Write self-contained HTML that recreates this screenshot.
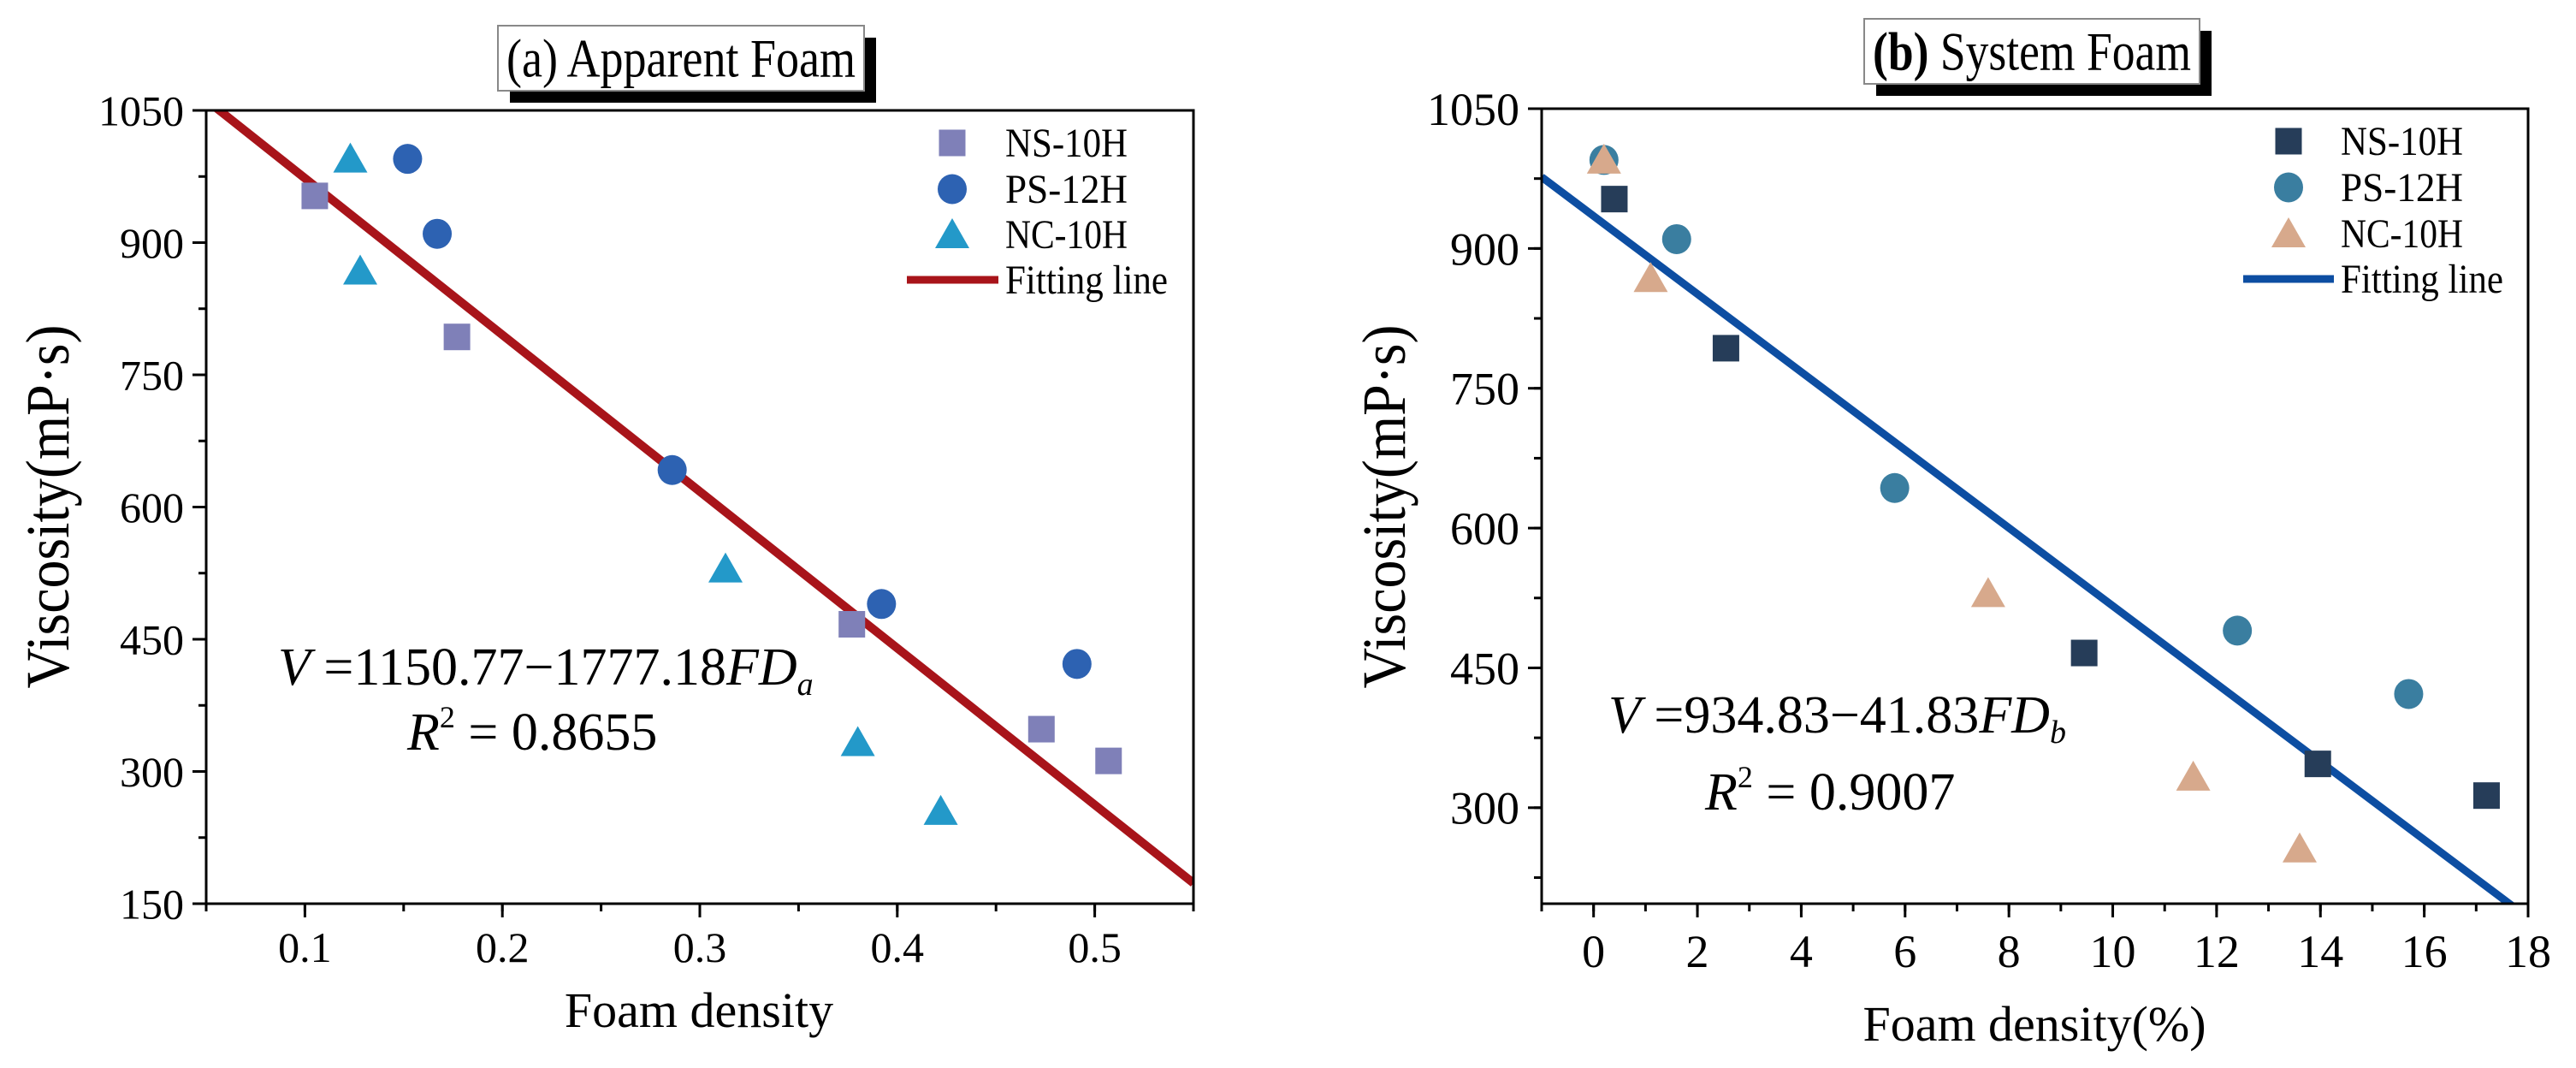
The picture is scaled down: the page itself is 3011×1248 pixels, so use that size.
<!DOCTYPE html>
<html><head><meta charset="utf-8">
<style>
html,body{margin:0;padding:0;background:#fff;}
svg{display:block;font-family:"Liberation Serif",serif;}
</style></head>
<body>
<svg id="fig" width="3011" height="1248" viewBox="0 0 3011 1248" xmlns="http://www.w3.org/2000/svg">
<rect width="3011" height="1248" fill="#fff"/>
</svg>
<script>
// ---------- Panel (a) data ----------
const aNsX = [0.105, 0.177, 0.377, 0.473, 0.507];
const aNsY = [953, 793, 467, 348, 312];
const aPsX = [0.152, 0.167, 0.286, 0.392, 0.491];
const aPsY = [995, 910, 642, 490, 422];
const aNcX = [0.123, 0.128, 0.313, 0.380, 0.422];
const aNcY = [995, 868, 530, 333, 255];
const aFit = [1150.77, -1777.18];
const aXTicks = ["0.1","0.2","0.3","0.4","0.5"];
const aYTicks = ["150","300","450","600","750","900","1050"];
// ---------- Panel (b) data ----------
const bNsX = [0.4, 2.55, 9.45, 13.95, 17.2];
const bNsY = [953, 793, 466, 347, 313];
const bPsX = [0.2, 1.6, 5.8, 12.4, 15.7];
const bPsY = [995, 910, 643, 490, 422];
const bNcX = [0.2, 1.1, 7.6, 11.55, 13.6];
const bNcY = [995, 868, 530, 333, 256];
const bFit = [934.83, -41.83];
const bXTicks = ["0","2","4","6","8","10","12","14","16","18"];
const bYTicks = ["300","450","600","750","900","1050"];

const NS = "http://www.w3.org/2000/svg";
const svg = document.getElementById('fig');
function el(tag, attrs, parent, text){
  const e = document.createElementNS(NS, tag);
  for (const k in attrs) e.setAttribute(k, attrs[k]);
  if (text !== undefined) e.textContent = text;
  (parent||svg).appendChild(e);
  return e;
}

function panel(cfg){
  const g = el('g', {});
  
  
  const sx = v => cfg.L + (v - cfg.xmin) / (cfg.xmax - cfg.xmin) * (cfg.R - cfg.L);
  const sy = v => cfg.B - (v - cfg.ymin) / (cfg.ymax - cfg.ymin) * (cfg.B - cfg.T);

  // title box
  const tb = cfg.titleBox;
  const sh = el('rect', {x: tb.x+14, y: tb.y+14, width: tb.w, height: tb.h, fill:'#000'}, g);
  
  
  const bx = el('rect', {x: tb.x, y: tb.y, width: tb.w, height: tb.h, fill:'#fff', stroke:'#888', 'stroke-width':2}, g);
  
  
  const tt = el('text', {x: tb.x + 10, y: tb.y + tb.h*0.78, 'font-size': 64, textLength: tb.w-20, lengthAdjust:'spacingAndGlyphs'}, g);
  
  
  tt.innerHTML = cfg.titleHTML;

  // clip
  const cp = el('clipPath', {id: cfg.name+'-clip'}, g);
  el('rect', {x: cfg.L, y: cfg.T, width: cfg.R-cfg.L, height: cfg.B-cfg.T}, cp);

  // fit line
  const x0 = cfg.xmin, x1 = cfg.xmax;
  const fl = el('line', {x1: sx(x0), y1: sy(cfg.fit[0]+cfg.fit[1]*x0), x2: sx(x1), y2: sy(cfg.fit[0]+cfg.fit[1]*x1),
    stroke: cfg.lineColor, 'stroke-width': cfg.lw, 'clip-path': 'url(#'+cfg.name+'-clip)'}, g);
  
  

  // markers
  function square(x,y,c,par){ return el('rect',{x:x-15.5,y:y-15.5,width:31,height:31,fill:c},par); }
  function circle(x,y,c,par){ return el('ellipse',{cx:x,cy:y,rx:17,ry:17.5,fill:c},par); }
  function tri(x,y,c,par){ return el('polygon',{points:`${x},${y-19} ${x-20},${y+16} ${x+20},${y+16}`,fill:c},par); }
  cfg.nsX.forEach((v,i)=>{ const m = square(sx(v), sy(cfg.nsY[i]), cfg.c1, g);
    
     });
  cfg.psX.forEach((v,i)=>{ const m = circle(sx(v), sy(cfg.psY[i]), cfg.c2, g);
    
     });
  cfg.ncX.forEach((v,i)=>{ const m = tri(sx(v), sy(cfg.ncY[i]), cfg.c3, g);
    
     });

  // axes frame
  const fr = el('rect', {x: cfg.L, y: cfg.T, width: cfg.R-cfg.L, height: cfg.B-cfg.T, fill:'none', stroke:'#000', 'stroke-width':3}, g);
  
  

  // x ticks
  cfg.xTicks.forEach(t => {
    const v = parseFloat(t), X = sx(v);
    el('line', {x1:X, y1:cfg.B, x2:X, y2:cfg.B+16, stroke:'#000','stroke-width':3}, g);
    const lb = el('text', {x:X, y:cfg.xLabelY, 'font-size':cfg.tickFont, 'text-anchor':'middle'}, g, t);
    
    
  });
  for (let v = cfg.xmin; v <= cfg.xmax + 1e-9; v += cfg.xMinor) {
    el('line', {x1:sx(v), y1:cfg.B, x2:sx(v), y2:cfg.B+9, stroke:'#000','stroke-width':3}, g);
  }
  // y ticks
  cfg.yTicks.forEach(t => {
    const v = parseFloat(t), Y = sy(v);
    el('line', {x1:cfg.L-16, y1:Y, x2:cfg.L, y2:Y, stroke:'#000','stroke-width':3}, g);
    const lb = el('text', {x:cfg.L-26, y:Y+cfg.tickFont*0.35, 'font-size':cfg.tickFont, 'text-anchor':'end'}, g, t);
    
    
  });
  for (let v = parseFloat(cfg.yTicks[0]) - 75; v <= cfg.ymax; v += 75) {
    if (v < cfg.ymin) continue;
    el('line', {x1:cfg.L-9, y1:sy(v), x2:cfg.L, y2:sy(v), stroke:'#000','stroke-width':3}, g);
  }

  // axis titles
  const xt = el('text', {x: cfg.xTitleX, y: cfg.xTitleY, 'font-size':58, 'text-anchor':'middle'}, g, cfg.xTitle);
  
  
  const yt = el('text', {x: 0, y: 0, 'font-size':72, 'text-anchor':'middle', textLength: 425, lengthAdjust:'spacingAndGlyphs',
     transform:`translate(${cfg.yTitleX},592) rotate(-90)`}, g, 'Viscosity(mP·s)');
  
  

  // legend
  const lg = el('g', {}, g);
  
  
  const ry = cfg.legRows, mx = cfg.legMX, tx = cfg.legTX;
  const items = [['NS-10H', square, cfg.c1], ['PS-12H', circle, cfg.c2], ['NC-10H', tri, cfg.c3]];
  items.forEach((it,i)=>{
    const m = it[1](mx, ry[i], it[2], lg);
    
    
    const t = el('text', {x:tx, y:ry[i]+16, 'font-size':48, textLength:143, lengthAdjust:'spacingAndGlyphs'}, lg, it[0]);
    
    
  });
  el('line', {x1:mx-53, y1:ry[3], x2:tx-8, y2:ry[3], stroke:cfg.lineColor, 'stroke-width':9}, lg);
  const ft = el('text', {x:tx, y:ry[3]+16, 'font-size':48, textLength:190, lengthAdjust:'spacingAndGlyphs'}, lg, 'Fitting line');
  
  

  // equation
  const eq = el('text', {x: cfg.eqX, y: cfg.eqY, 'font-size':62}, g);
  
  
  eq.innerHTML = cfg.eqHTML;
  const r2 = el('text', {x: cfg.r2X, y: cfg.r2Y, 'font-size':62}, g);
  
  
  r2.innerHTML = cfg.r2HTML;
}

panel({
  name:'panel-a', L:241, R:1395, T:129, B:1056, xmin:0.05, xmax:0.55, ymin:150, ymax:1050,
  xMinor:0.05, xTicks:aXTicks, yTicks:aYTicks, tickFont:50, xLabelY:1124,
  nsX:aNsX, nsY:aNsY, psX:aPsX, psY:aPsY, ncX:aNcX, ncY:aNcY, fit:aFit,
  c1:'#7f80b8', c2:'#2d62b2', c3:'#2399c9', lineColor:'#a8141a', lw:10,
  titleBox:{x:582,y:30,w:428,h:76}, titleHTML:'(a) Apparent Foam',
  xTitle:'Foam density', xTitleX:817, xTitleY:1200, yTitleX:80,
  legRows:[167,221,274,327], legMX:1113, legTX:1175,
  eqX:325, eqY:800, eqHTML:'<tspan font-style="italic">V</tspan> =1150.77−1777.18<tspan font-style="italic">FD</tspan><tspan font-style="italic" font-size="38" dy="12">a</tspan>',
  r2X:476, r2Y:876, r2HTML:'<tspan font-style="italic">R</tspan><tspan font-size="36" dy="-26">2</tspan><tspan dy="26"> = 0.8655</tspan>'
});
panel({
  name:'panel-b', L:1802, R:2955, T:127, B:1056, xmin:-1, xmax:18, ymin:197, ymax:1050,
  xMinor:1, xTicks:bXTicks, yTicks:bYTicks, tickFont:54, xLabelY:1130,
  nsX:bNsX, nsY:bNsY, psX:bPsX, psY:bPsY, ncX:bNcX, ncY:bNcY, fit:bFit,
  c1:'#263d59', c2:'#3a7ea0', c3:'#d7a98c', lineColor:'#0d4ea2', lw:9,
  titleBox:{x:2179,y:22,w:392,h:76}, titleHTML:'<tspan font-weight="bold">(b)</tspan> System Foam',
  xTitle:'Foam density(%)', xTitleX:2378, xTitleY:1216, yTitleX:1642,
  legRows:[165,219,273,326], legMX:2675, legTX:2736,
  eqX:1880, eqY:856, eqHTML:'<tspan font-style="italic">V</tspan> =934.83−41.83<tspan font-style="italic">FD</tspan><tspan font-style="italic" font-size="38" dy="12">b</tspan>',
  r2X:1993, r2Y:946, r2HTML:'<tspan font-style="italic">R</tspan><tspan font-size="36" dy="-26">2</tspan><tspan dy="26"> = 0.9007</tspan>'
});
</script>
</body></html>
